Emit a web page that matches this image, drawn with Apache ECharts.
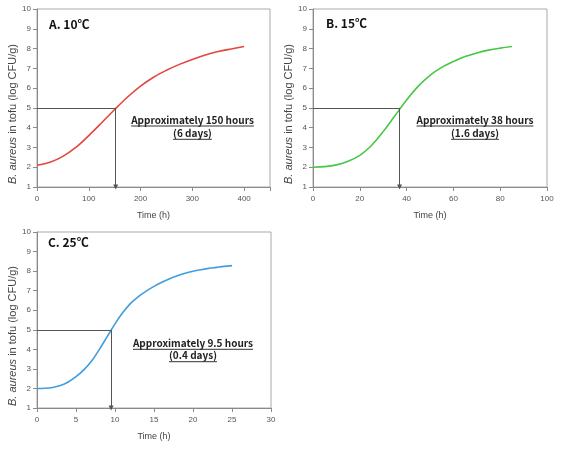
<!DOCTYPE html>
<html><head><meta charset="utf-8">
<script src="https://cdn.jsdelivr.net/npm/echarts@6/dist/echarts.min.js"></script>
<style>html,body{margin:0;padding:0;background:#fff}#c{width:565px;height:449px}</style>
</head><body><div id="c"></div>
<script>
// Panel A: 10°C
const timeA = [0,25,50,75,100,125,150,175,200,225,250,275,300,325,350,375,400];
const logA  = [2.1,2.25,2.55,3.0,3.6,4.25,4.92,5.55,6.1,6.55,6.9,7.2,7.45,7.67,7.85,7.98,8.1];
// Panel B: 15°C
const timeB = [0,5,10,15,20,25,30,35,40,45,50,55,60,65,70,75,80,85];
const logB  = [2.0,2.03,2.12,2.3,2.6,3.1,3.8,4.6,5.4,6.1,6.65,7.05,7.35,7.6,7.78,7.92,8.02,8.1];
// Panel C: 25°C
const timeC = [0,1,2,3,4,5,6,7,8,9,10,11,12,13,14,15,16,17,18,19,20,21,22,23,24,25];
const logC  = [2.0,2.01,2.05,2.15,2.33,2.6,2.95,3.4,4.0,4.65,5.3,5.88,6.35,6.7,6.98,7.22,7.43,7.61,7.76,7.89,7.99,8.07,8.14,8.19,8.24,8.28];
// Threshold crossing (5 log CFU/g)
const threshold = 5;
const crossTime = [152, 37, 9.5];
const panelTitles = ['A. 10℃', 'B. 15℃', 'C. 25℃'];
const noteLine1 = ['Approximately 150 hours', 'Approximately 38 hours', 'Approximately 9.5 hours'];
const noteLine2 = ['(6 days)', '(1.6 days)', '(0.4 days)'];
const xMax = [450, 100, 30];
const xInterval = [100, 20, 5];
const colors = ['#e2463f', '#47c747', '#3f9ee0'];

const grids = [
  {left: 37, top: 9, width: 233, height: 178},
  {left: 313, top: 9, width: 234, height: 178},
  {left: 37, top: 232, width: 234, height: 176}
];
const axisColor = '#8a8a8a';
const labelColor = '#555';

const option = {
  animation: false,
  grid: grids.map(g => Object.assign({show: true, borderColor: '#aaa', borderWidth: 1, backgroundColor: 'transparent'}, g)),
  xAxis: [0,1,2].map(i => ({
    type: 'value', gridIndex: i, min: 0, max: xMax[i], interval: xInterval[i],
    name: 'Time (h)', nameLocation: 'middle', nameGap: 24,
    nameTextStyle: {fontFamily: 'Liberation Sans', fontSize: 9, color: '#444'},
    axisLine: {show: true, lineStyle: {color: axisColor}},
    axisTick: {show: true, length: 4, lineStyle: {color: axisColor}},
    axisLabel: {fontFamily: 'Liberation Sans', fontSize: 8, color: labelColor, margin: 8,
      formatter: v => (v % xInterval[i] === 0 ? String(v) : '')},
    splitLine: {show: false}
  })),
  yAxis: [0,1,2].map(i => ({
    type: 'value', gridIndex: i, min: 1, max: 10, interval: 1,
    name: '{it|B.} {it|aureus} in tofu (log CFU/g)', nameLocation: 'middle', nameGap: 19,
    nameTextStyle: {fontFamily: 'Liberation Sans', fontSize: 11, color: '#444', padding: [0, 32, 0, 0],
      rich: {it: {fontStyle: 'italic', fontFamily: 'Liberation Sans', fontSize: 11, color: '#444'}}},
    axisLine: {show: true, lineStyle: {color: axisColor}},
    axisTick: {show: true, length: 4, lineStyle: {color: axisColor}},
    axisLabel: {fontFamily: 'Liberation Sans', fontSize: 8, color: labelColor, margin: 6},
    splitLine: {show: false}
  })),
  series: []
};

const times = [timeA, timeB, timeC];
const logs = [logA, logB, logC];
for (let i = 0; i < 3; i++) {
  option.series.push({
    type: 'line', xAxisIndex: i, yAxisIndex: i, smooth: 0.35, showSymbol: false,
    data: times[i].map((t, k) => [t, logs[i][k]]),
    lineStyle: {color: colors[i], width: 1.6}, z: 3,
    markLine: {
      silent: true, animation: false,
      lineStyle: {color: '#555', width: 1, type: 'solid'},
      label: {show: false},
      data: [
        [{coord: [0, threshold], symbol: 'none'}, {coord: [crossTime[i], threshold], symbol: 'none'}],
        [{coord: [crossTime[i], threshold], symbol: 'none'}, {coord: [crossTime[i], 1], symbol: 'triangle', symbolSize: [5, 5], symbolRotate: 180}]
      ]
    }
  });
}

const titlePos = [[49, 25], [326, 24], [48, 243]];
const notePos = [[192.5, 120, 133.3], [475, 120, 133.3], [193, 343.3, 355.7]];
const cvs = document.createElement('canvas').getContext('2d');
const noteFont = 'bold 10px "Noto Sans CJK KR"';
cvs.font = noteFont;
const graphics = [];
for (let i = 0; i < 3; i++) {
  graphics.push({type: 'text', left: titlePos[i][0], top: titlePos[i][1] - 7,
    style: {text: panelTitles[i], font: 'bold 12px "Noto Sans CJK KR"', fill: '#111'}});
  [[noteLine1[i], notePos[i][1]], [noteLine2[i], notePos[i][2]]].forEach(([txt, cy]) => {
    const w = cvs.measureText(txt).width;
    const cx = notePos[i][0];
    graphics.push({type: 'text', x: cx, y: cy,
      style: {text: txt, font: noteFont, fill: '#222', textAlign: 'center', textVerticalAlign: 'middle'}});
    graphics.push({type: 'line', shape: {x1: cx - w / 2, y1: cy + 6, x2: cx + w / 2, y2: cy + 6},
      style: {stroke: '#333', lineWidth: 1}});
  });
}
option.graphic = graphics;

const chart = echarts.init(document.getElementById('c'), null, {renderer: 'canvas'});
chart.setOption(option);
</script>
</body></html>
